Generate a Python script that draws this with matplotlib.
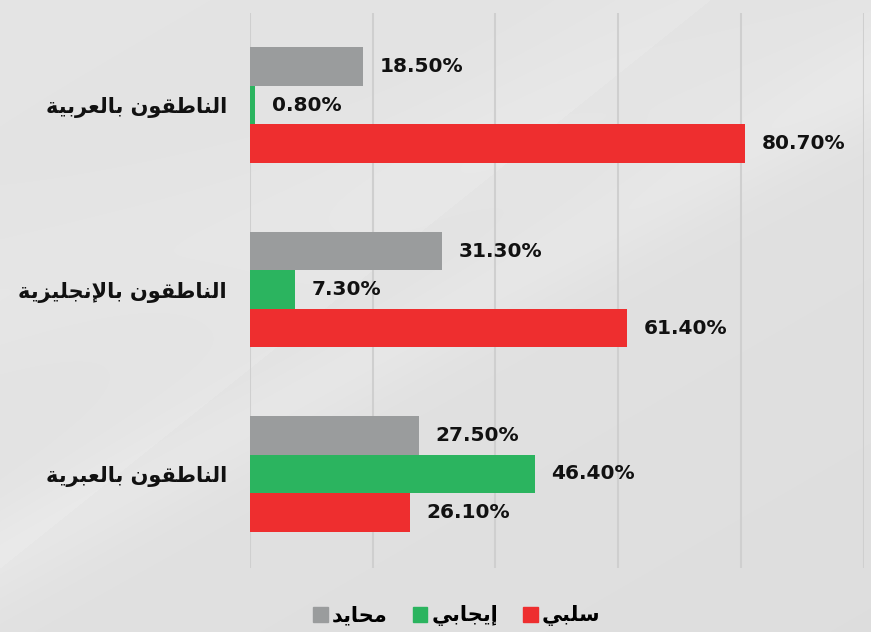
import numpy as np
import matplotlib
matplotlib.use("Agg")
import matplotlib.pyplot as plt
from matplotlib.patches import Patch

# data
groups = ["الناطقون بالعربية", "الناطقون بالإنجليزية", "الناطقون بالعبرية"]
series = ["محايد", "إيجابي", "سلبي"]
neutral = [18.5, 31.3, 27.5]
positive = [0.8, 7.3, 46.4]
negative = [80.7, 61.4, 26.1]
colors = ["#9a9c9d", "#2bb45f", "#ee2e2f"]

# minimal arabic shaping: (isolated, final, initial, medial)
FORMS = {
    "ا": ("\uFE8D", "\uFE8E", None, None),
    "إ": ("\uFE87", "\uFE88", None, None),
    "ب": ("\uFE8F", "\uFE90", "\uFE91", "\uFE92"),
    "ة": ("\uFE93", "\uFE94", None, None),
    "ج": ("\uFE9D", "\uFE9E", "\uFE9F", "\uFEA0"),
    "ح": ("\uFEA1", "\uFEA2", "\uFEA3", "\uFEA4"),
    "د": ("\uFEA9", "\uFEAA", None, None),
    "ر": ("\uFEAD", "\uFEAE", None, None),
    "ز": ("\uFEAF", "\uFEB0", None, None),
    "س": ("\uFEB1", "\uFEB2", "\uFEB3", "\uFEB4"),
    "ط": ("\uFEC1", "\uFEC2", "\uFEC3", "\uFEC4"),
    "ع": ("\uFEC9", "\uFECA", "\uFECB", "\uFECC"),
    "ق": ("\uFED5", "\uFED6", "\uFED7", "\uFED8"),
    "ل": ("\uFEDD", "\uFEDE", "\uFEDF", "\uFEE0"),
    "م": ("\uFEE1", "\uFEE2", "\uFEE3", "\uFEE4"),
    "ن": ("\uFEE5", "\uFEE6", "\uFEE7", "\uFEE8"),
    "و": ("\uFEED", "\uFEEE", None, None),
    "ي": ("\uFEF1", "\uFEF2", "\uFEF3", "\uFEF4"),
    "لا": ("\uFEFB", "\uFEFC", None, None),
    "لإ": ("\uFEF9", "\uFEFA", None, None),
}


def shape(text):
    chars = []
    i = 0
    while i < len(text):
        if text[i] == "ل" and i + 1 < len(text) and text[i + 1] in "اإ":
            chars.append(text[i:i + 2])
            i += 2
        else:
            chars.append(text[i])
            i += 1

    def dual(c):
        return c in FORMS and FORMS[c][2] is not None

    out = []
    for k, c in enumerate(chars):
        if c not in FORMS:
            out.append(c)
            continue
        prev = chars[k - 1] if k > 0 else None
        nxt = chars[k + 1] if k + 1 < len(chars) else None
        jp = prev is not None and dual(prev)
        jn = nxt is not None and dual(c) and nxt in FORMS
        iso, fin, ini, med = FORMS[c]
        if jp and jn:
            out.append(med)
        elif jp:
            out.append(fin)
        elif jn:
            out.append(ini)
        else:
            out.append(iso)
    return "".join(reversed(out))


fig = plt.figure(figsize=(8.71, 6.32), dpi=100)

# soft gray background with light diagonal streaks (row 0 = bottom for figimage)
yy, xx = np.mgrid[0:632, 0:871].astype(float)
yy = 631 - yy
img = 0.885 - 0.015 * (yy / 632.0) + 0.012 * (1 - xx / 871.0)
d1 = (yy - 560) + 0.55 * xx
img += 0.02 * np.exp(-(d1 / 50.0) ** 2)
d2 = (yy - 300) + 0.3 * xx
img += 0.012 * np.exp(-(d2 / 80.0) ** 2)
d3 = (yy - 120) + 0.8 * (xx - 560)
img += 0.012 * np.exp(-(np.clip(d3, None, 0) / 120.0) ** 2) * (d3 < 0)
img = np.clip(img, 0, 1)
rgb = np.dstack([img, img, img])
fig.figimage(rgb[::-1], xo=0, yo=0, zorder=-10)

ax = fig.add_axes([250 / 871, 1 - 568 / 632, 613.5 / 871, 555 / 632])
ax.patch.set_alpha(0)

y = np.arange(len(groups))
h = 0.209
values = [neutral, positive, negative]
for j, (vals, col) in enumerate(zip(values, colors)):
    pos = y + (j - 1) * h
    ax.barh(pos, vals, height=h, color=col, zorder=3)
    for p, v in zip(pos, vals):
        ax.annotate(f"{v:.2f}%", (v, p), xytext=(12, 0), textcoords="offset points",
                    ha="left", va="center", fontsize=14.5, fontweight="bold",
                    color="#111111", zorder=4)

ax.set_xlim(0, 100)
ax.set_ylim(2.51, -0.5)
ax.set_xticks(range(0, 101, 20))
ax.grid(axis="x", color="#cfcfcf", linewidth=1.5, zorder=0)
ax.set_yticks(y)
ax.set_yticklabels([shape(g) for g in groups], fontsize=15, fontweight="bold",
                   color="#111111")
ax.tick_params(axis="y", length=0, pad=16.5)
ax.tick_params(axis="x", length=0, labelbottom=False)
for s in ax.spines.values():
    s.set_visible(False)

handles = [Patch(color=c, label=shape(s)) for c, s in zip(colors, series)]
fig.legend(handles=handles, loc="center", bbox_to_anchor=(457 / 871, 1 - 616 / 632),
           ncol=3, frameon=False, handlelength=0.7, handleheight=0.7,
           handletextpad=0.2, columnspacing=1.2,
           prop={"size": 15, "weight": "bold"})

fig.savefig("out.png", dpi=100)
